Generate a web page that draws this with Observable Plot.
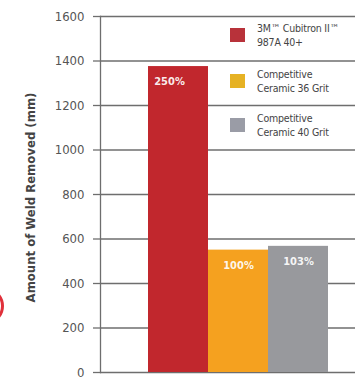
<!DOCTYPE html>
<html>
<head>
<meta charset="utf-8">
<script src="https://cdn.jsdelivr.net/npm/d3@7"></script>
<script src="https://cdn.jsdelivr.net/npm/@observablehq/plot@0.6"></script>
<style>
  html, body { margin: 0; padding: 0; background: #fff; overflow: hidden; }
  #wrap { position: relative; width: 355px; height: 380px; font-family: "DejaVu Sans Condensed", "DejaVu Sans", sans-serif; font-stretch: condensed; }
  #legend { position: absolute; left: 230px; top: 0; width: 130px; }
  .row { position: absolute; left: 0; display: flex; align-items: center; white-space: nowrap; }
  .sw { width: 15px; height: 14px; margin-right: 12px; flex: none; }
  .lbl { font-size: 10.5px; line-height: 14px; color: #444; letter-spacing: -0.2px; }
  #deco { position: absolute; left: -22px; top: 290px; width: 20px; height: 26px; border: 3px solid #e0303a; border-radius: 50%; }
  svg text { font-stretch: condensed; }
</style>
</head>
<body>
<div id="wrap"><div id="deco"></div></div>
<script>
const categories = ["3M™ Cubitron II™ 987A 40+", "Competitive Ceramic 36 Grit", "Competitive Ceramic 40 Grit"];
const values = [1375, 550, 567];
const percentLabels = ["250%", "100%", "103%"];
const barColors = ["#c1272d", "#f5a11f", "#98999d"];
const legendColors = ["#b8323a", "#e6b224", "#9a9ca6"];
const legendLines = [["3M™ Cubitron II™", "987A 40+"], ["Competitive", "Ceramic 36 Grit"], ["Competitive", "Ceramic 40 Grit"]];
const yTicks = [0, 200, 400, 600, 800, 1000, 1200, 1400, 1600];
const yTitle = "Amount of Weld Removed (mm)";

const data = categories.map((c, i) => ({cat: c, value: values[i], label: percentLabels[i], color: barColors[i]}));

const chart = Plot.plot({
  width: 355,
  height: 380,
  marginTop: 16,
  marginBottom: 8,
  marginLeft: 100,
  marginRight: 0,
  style: {fontFamily: "'DejaVu Sans Condensed', 'DejaVu Sans', sans-serif", background: "transparent"},
  x: {domain: categories, range: [147, 328], padding: 0, axis: null},
  y: {domain: [0, 1600], ticks: yTicks, tickFormat: d => String(d)},
  marks: [
    Plot.gridY(yTicks, {stroke: "#6e6e6e", strokeOpacity: 1, strokeWidth: 1.3}),
    Plot.frame({anchor: "left", stroke: "#6e6e6e", strokeWidth: 1.3}),
    Plot.axisY({ticks: yTicks, tickSize: 7, tickPadding: 9, stroke: "#6e6e6e", strokeWidth: 1.3, fontSize: 13, fill: "#555", label: null, tickFormat: d => String(d)}),
    Plot.barY(data, {x: "cat", y: "value", fill: "color"}),
    Plot.text(data.slice(0, 1), {x: "cat", y: "value", text: "label", dy: 15, dx: -9, fill: "#fff", fontSize: 11, fontWeight: "bold", fillOpacity: 0.92}),
    Plot.text(data.slice(1), {x: "cat", y: "value", text: "label", dy: 15, fill: "#fff", fontSize: 11, fontWeight: "bold", fillOpacity: 0.92}),
    Plot.text([yTitle], {frameAnchor: "left", dx: -70, dy: 3, rotate: -90, textAnchor: "middle", text: d => d, fontSize: 13, fontWeight: "bold", fill: "#444"})
  ]
});
document.getElementById("wrap").appendChild(chart);

// legend
const legend = document.createElement("div");
legend.id = "legend";
const rowTops = [21, 67, 111];
categories.forEach((c, i) => {
  const row = document.createElement("div");
  row.className = "row";
  row.style.top = rowTops[i] + "px";
  const sw = document.createElement("div");
  sw.className = "sw";
  sw.style.background = legendColors[i];
  const lbl = document.createElement("div");
  lbl.className = "lbl";
  lbl.innerHTML = legendLines[i].join("<br>");
  row.appendChild(sw);
  row.appendChild(lbl);
  legend.appendChild(row);
});
document.getElementById("wrap").appendChild(legend);
</script>
</body>
</html>
